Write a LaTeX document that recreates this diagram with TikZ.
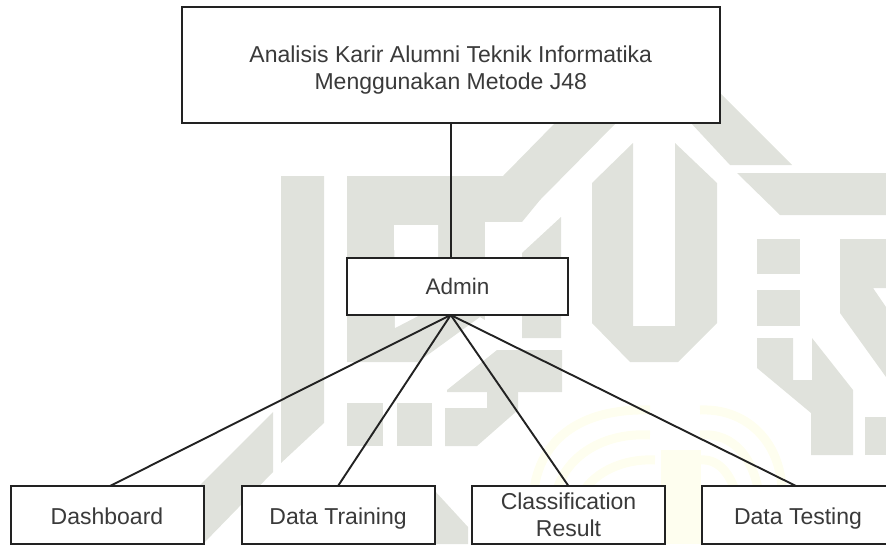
\documentclass[tikz,border=0pt]{standalone}
\usepackage{fontspec}
\setmainfont{Liberation Sans}
\definecolor{wm}{HTML}{E0E2DC}
\definecolor{wmy}{HTML}{FEFEEF}
\definecolor{ink}{HTML}{222222}
\definecolor{txt}{HTML}{3A3A3A}
\tikzset{
  box/.style={draw=ink,fill=white,line width=2pt,outer sep=0pt,inner sep=0pt,align=center,text=txt,
    font=\fontsize{23}{27}\selectfont},
  childbox/.style={box,minimum width=193pt,minimum height=57.5pt},
  oneline/.style={text height=19pt,text depth=0pt},
  link/.style={draw=ink,line width=1.9pt},
  wmark/.style={fill=wm,draw=none},
  palm/.style={draw=wmy,line width=9pt,fill=none}
}
\begin{document}
\begin{tikzpicture}[x=1pt,y=-1pt]
\useasboundingbox (0,0) rectangle (886,544);
\clip (0,0) rectangle (886,544);
% yellow watermark
\fill[wmy] (661,450) rectangle (701,544);
\draw[palm] (533,500) .. controls (536,440) and (580,408) .. (650,410);
\draw[palm] (555,500) .. controls (560,460) and (600,432) .. (650,435);
\draw[palm] (580,500) .. controls (585,480) and (615,458) .. (655,460);
\draw[palm] (782,490) .. controls (780,440) and (745,408) .. (700,410);
\draw[palm] (760,500) .. controls (755,460) and (735,432) .. (700,435);
\draw[palm] (738,500) .. controls (733,480) and (722,458) .. (700,460);
% grey watermark
\fill[wmark] (281,176) -- (324,176) -- (324,423) -- (281,463) -- cycle;
\fill[wmark] (347,176) -- (503,176) -- (556,122) -- (617,122) -- (540,200) -- (522,222) -- (485,222)
  -- (485,320) -- (480,317) -- (418,362) -- (347,362) -- cycle;
\fill[white] (394,225) -- (438,225) -- (438,300) -- (420,315) -- (395,328) -- cycle;
\fill[white] (485,222) rectangle (522,330);
\fill[wmark] (522,253) -- (561,217) -- (561,338) -- (522,338) -- cycle;
\fill[wmark] (447,390) -- (497,350) -- (562,350) -- (562,392) -- (447,392) -- cycle;
\fill[wmark] (445,408) -- (487,408) -- (487,392) -- (518,392) -- (518,410) -- (477,446) -- (445,446) -- cycle;
\fill[wmark] (347,403) rectangle (383,446);
\fill[wmark] (397,403) rectangle (432,446);
\fill[wmark] (273,412) -- (273,472) -- (203,544) -- (190,544) -- (190,495) -- cycle;
\fill[wmark] (434,490) -- (468,527) -- (468,544) -- (434,544) -- cycle;
\fill[wmark] (592,183) -- (633,143) -- (633,326) -- (675,326) -- (675,143) -- (717,183) -- (717,323) -- (678,362) -- (630,362) -- (592,323) -- cycle;
\fill[wmark] (690,122) -- (730,165) -- (792,165) -- (720,93) -- (700,93) -- cycle;
\fill[wmark] (737,173) -- (886,173) -- (886,215) -- (780,215) -- cycle;
\fill[wmark] (757,239) rectangle (800,274);
\fill[wmark] (757,290) rectangle (800,326);
\fill[wmark] (840,239) -- (886,239) -- (886,288) -- (873,288) -- (886,307) -- (886,377) -- (840,313) -- cycle;
\fill[wmark] (757,338) -- (793,338) -- (793,380) -- (812,380) -- (812,338) -- (853,390) -- (853,455) -- (811,455) -- (811,413) -- (757,368) -- cycle;
\fill[wmark] (865,417) rectangle (886,455);
% diagram
\node[box,minimum width=538.5pt,minimum height=115.5pt] (top) at (450.75,64.75) {\rule{0pt}{27pt}Analisis Karir Alumni Teknik Informatika\\Menggunakan Metode J48};
\node[box,minimum width=221pt,minimum height=57.5pt,font=\fontsize{22.5}{27}\selectfont] (admin) at (457.5,286.25) {Admin};
\node[childbox,oneline] (dash) at (107,514.75) {Dashboard};
\node[childbox,oneline] (train) at (338,514.75) {Data Training};
\node[childbox] (class) at (568.5,514.75) {Classification\\Result};
\node[childbox,oneline,minimum width=192pt] (test) at (798,514.75) {Data Testing};
\coordinate (hub) at (top.south |- admin.south);
\draw[link] (top.south) -- (top.south |- admin.north);
\draw[link] (hub) -- ([xshift=3pt]dash.north);
\draw[link] (hub) -- (train.north);
\draw[link] (hub) -- (class.north);
\draw[link] (hub) -- ([xshift=-2pt]test.north);
\end{tikzpicture}
\end{document}
